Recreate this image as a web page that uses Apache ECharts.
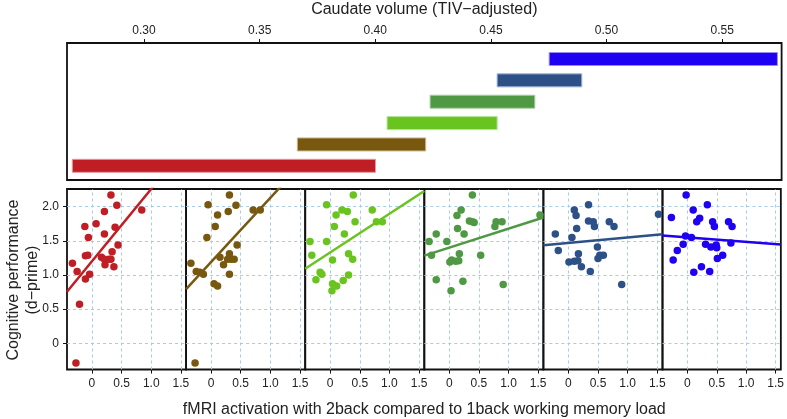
<!DOCTYPE html>
<html>
<head>
<meta charset="utf-8">
<script src="https://cdn.jsdelivr.net/npm/echarts@6/dist/echarts.min.js"></script>
<style>
html,body{margin:0;padding:0;background:#fff;}
#chart{width:787px;height:419px;}
</style>
</head>
<body>
<div id="chart"></div>
<script>
// ---- data ----
const caudateTicks = [0.30, 0.35, 0.40, 0.45, 0.50, 0.55];
const intervalStart = [0.2690, 0.3663, 0.4051, 0.4237, 0.4527, 0.4752];
const intervalEnd   = [0.4001, 0.4218, 0.4527, 0.4690, 0.4893, 0.5739];
const panelColors = ['#BE1E24', '#78570F', '#6AC420', '#4F9844', '#2D5087', '#1E00F2'];
const barEdgeColors = ['#e49a9c', '#c9b48a', '#b5e39a', '#a9cfa3', '#9fb2d4', '#9c8cf8'];

const activationTicks = [0, 0.5, 1.0, 1.5];
const performanceTicks = [0, 0.5, 1.0, 1.5, 2.0];

const panel1 = [[0.32,2.17],[0.42,2.02],[0.84,1.95],[0.21,1.93],[-0.12,1.71],[0.07,1.75],[0.39,1.70],[0.21,1.60],[-0.06,1.55],[0.44,1.44],[0.34,1.34],[-0.11,1.28],[-0.07,1.29],[0.16,1.26],[0.21,1.23],[0.29,1.23],[0.32,1.23],[-0.33,1.17],[0.22,1.15],[0.37,1.12],[-0.25,1.05],[-0.04,1.01],[-0.11,0.94],[-0.21,0.57],[-0.27,-0.29]];
const panel2 = [[0.31,2.17],[-0.05,2.03],[0.42,2.02],[0.71,1.95],[0.83,1.95],[0.29,1.93],[0.11,1.88],[0.07,1.71],[-0.07,1.55],[0.44,1.44],[0.31,1.31],[0.15,1.26],[0.28,1.23],[0.34,1.23],[0.39,1.23],[0.21,1.15],[-0.34,1.17],[-0.25,1.05],[-0.19,1.04],[-0.13,1.01],[0.31,1.01],[0.05,0.87],[0.11,0.84],[-0.27,-0.29]];
const panel3 = [[0.39,2.17],[-0.06,2.03],[0.20,1.95],[0.29,1.93],[0.71,1.95],[0.10,1.88],[0.42,1.78],[0.78,1.78],[0.88,1.78],[0.07,1.71],[0.24,1.60],[-0.34,1.49],[-0.06,1.49],[-0.31,1.29],[0.31,1.31],[0.04,1.22],[0.38,1.23],[-0.17,1.04],[-0.14,1.01],[-0.24,0.93],[0.31,1.00],[0.22,0.92],[0.04,0.87],[0.11,0.84],[0.03,0.77]];
const panel4 = [[0.39,2.17],[0.20,1.95],[0.13,1.87],[0.34,1.79],[0.39,1.78],[0.42,1.77],[0.79,1.78],[0.89,1.78],[0.77,1.71],[1.53,1.88],[0.14,1.68],[-0.22,1.60],[0.25,1.60],[-0.34,1.49],[-0.04,1.49],[-0.30,1.29],[0.17,1.31],[0.53,1.29],[0.04,1.22],[0.01,1.19],[0.11,1.20],[0.16,1.21],[-0.22,0.93],[0.23,0.91],[0.91,0.86],[0.03,0.77]];
const panel5 = [[0.34,2.03],[0.10,1.95],[0.13,1.87],[1.52,1.89],[0.34,1.79],[0.42,1.78],[0.44,1.71],[0.69,1.78],[0.77,1.71],[0.14,1.68],[-0.22,1.60],[0.06,1.55],[0.49,1.41],[-0.17,1.36],[0.17,1.31],[0.53,1.29],[0.59,1.29],[0.50,1.24],[0.01,1.19],[0.10,1.20],[0.16,1.21],[0.22,1.12],[0.37,1.05],[0.90,0.86]];
const panel6 = [[-0.02,2.17],[0.34,2.03],[0.10,1.95],[-0.27,1.84],[0.21,1.83],[0.16,1.78],[0.43,1.78],[0.46,1.71],[0.70,1.78],[0.76,1.71],[-0.03,1.57],[0.07,1.55],[-0.07,1.45],[0.31,1.45],[0.40,1.41],[0.49,1.44],[0.50,1.40],[0.74,1.47],[-0.17,1.36],[0.60,1.29],[0.51,1.24],[-0.24,1.22],[0.24,1.12],[0.11,1.04],[0.38,1.05]];
const panels = [panel1, panel2, panel3, panel4, panel5, panel6];

const fitIntercepts = [1.20, 1.19, 1.33, 1.40, 1.47, 1.55];
const fitSlopes     = [1.06, 0.94, 0.567, 0.278, 0.08, -0.065];

// ---- layout ----
const X_MIN = -0.421, X_MAX = 1.588;
const Y_MIN = -0.384, Y_MAX = 2.259;
const LEFT = 67, PW = 119.1, PTOP = 189, PH = 180.5;
const FONT = 'Liberation Sans, Arial, sans-serif';
const TXT = '#222';

const grids = [{left: LEFT, top: 43, width: PW * 6, height: 137, show: true, borderColor: '#111', borderWidth: 1.8, backgroundColor: 'transparent'}];
const xAxes = [{
  gridIndex: 0, type: 'value', position: 'top', min: 0.2667, max: 0.5757,
  axisLine: {show: false, onZero: false}, splitLine: {show: false},
  axisTick: {show: true, inside: false, length: 4, customValues: caudateTicks, lineStyle: {color: '#111', width: 1}},
  axisLabel: {customValues: caudateTicks, formatter: v => v.toFixed(2), color: TXT, fontSize: 12, fontFamily: FONT, margin: 6}
}];
const yAxes = [{gridIndex: 0, type: 'value', min: -0.665, max: 5.75, show: false, axisLine: {onZero: false}}];
const series = [{
  type: 'custom', xAxisIndex: 0, yAxisIndex: 0,
  data: intervalStart.map((s, i) => [s, intervalEnd[i], i]),
  encode: {x: [0, 1], y: 2},
  renderItem: function (params, api) {
    const row = api.value(2);
    const a = api.coord([api.value(0), row]);
    const b = api.coord([api.value(1), row]);
    return {type: 'rect', shape: {x: a[0], y: a[1] - 6.5, width: b[0] - a[0], height: 13},
      style: {fill: panelColors[row], stroke: barEdgeColors[row], lineWidth: 1}};
  },
  silent: true, animation: false
}];

panels.forEach((pts, i) => {
  const gi = i + 1;
  grids.push({left: LEFT + PW * i, top: PTOP, width: PW, height: PH, show: true, borderColor: '#111', borderWidth: 1.8, backgroundColor: 'transparent'});
  xAxes.push({
    gridIndex: gi, type: 'value', position: 'bottom', min: X_MIN, max: X_MAX,
    axisLine: {show: false, onZero: false}, splitLine: {show: false},
    axisTick: {show: true, inside: false, length: 4, customValues: activationTicks, lineStyle: {color: '#111', width: 1}},
    axisLabel: {customValues: activationTicks, formatter: v => (v === 0 ? '0' : v.toFixed(1)), color: TXT, fontSize: 12, fontFamily: FONT, margin: 8}
  });
  yAxes.push(i === 0 ? {
    gridIndex: gi, type: 'value', position: 'left', min: Y_MIN, max: Y_MAX,
    axisLine: {show: false, onZero: false}, splitLine: {show: false},
    axisTick: {show: true, inside: false, length: 4, customValues: performanceTicks, lineStyle: {color: '#111', width: 1}},
    axisLabel: {customValues: performanceTicks, formatter: v => (v === 0 ? '0' : v.toFixed(1)), color: TXT, fontSize: 12, fontFamily: FONT, margin: 8}
  } : {gridIndex: gi, type: 'value', min: Y_MIN, max: Y_MAX, show: false, axisLine: {onZero: false}});

  series.push({
    type: 'scatter', xAxisIndex: gi, yAxisIndex: gi, data: pts,
    symbolSize: 7.5, itemStyle: {color: panelColors[i], opacity: 1}, z: 3, silent: true, animation: false,
    markLine: {
      silent: true, symbol: 'none', animation: false, label: {show: false}, z: 1,
      lineStyle: {type: [3, 3], color: '#a8cbea', width: 1},
      data: activationTicks.map(v => ({xAxis: v})).concat(performanceTicks.map(v => ({yAxis: v})))
    }
  });
  series.push({
    type: 'line', xAxisIndex: gi, yAxisIndex: gi, clip: true,
    data: [[X_MIN, fitIntercepts[i] + fitSlopes[i] * X_MIN], [X_MAX, fitIntercepts[i] + fitSlopes[i] * X_MAX]],
    showSymbol: false, symbol: 'none', lineStyle: {color: panelColors[i], width: 2.5}, z: 4, silent: true, animation: false
  });
});

const chart = echarts.init(document.getElementById('chart'), null, {renderer: 'canvas'});
chart.setOption({
  animation: false,
  backgroundColor: '#fff',
  grid: grids, xAxis: xAxes, yAxis: yAxes, series: series,
  graphic: [
    {type: 'text', x: LEFT + PW * 3, y: 10, style: {text: 'Caudate volume (TIV\u2212adjusted)', fill: TXT, font: '16px ' + FONT, align: 'center', verticalAlign: 'middle'}},
    {type: 'text', x: LEFT + PW * 3, y: 410, style: {text: 'fMRI activation with 2back compared to 1back working memory load', fill: TXT, font: '16px ' + FONT, align: 'center', verticalAlign: 'middle'}},
    {type: 'text', x: 14, y: 280, rotation: Math.PI / 2, style: {text: 'Cognitive performance', fill: TXT, font: '16px ' + FONT, align: 'center', verticalAlign: 'middle'}},
    {type: 'text', x: 33, y: 280, rotation: Math.PI / 2, style: {text: '(d\u2212prime)', fill: TXT, font: '16px ' + FONT, align: 'center', verticalAlign: 'middle'}}
  ]
});
</script>
</body>
</html>
